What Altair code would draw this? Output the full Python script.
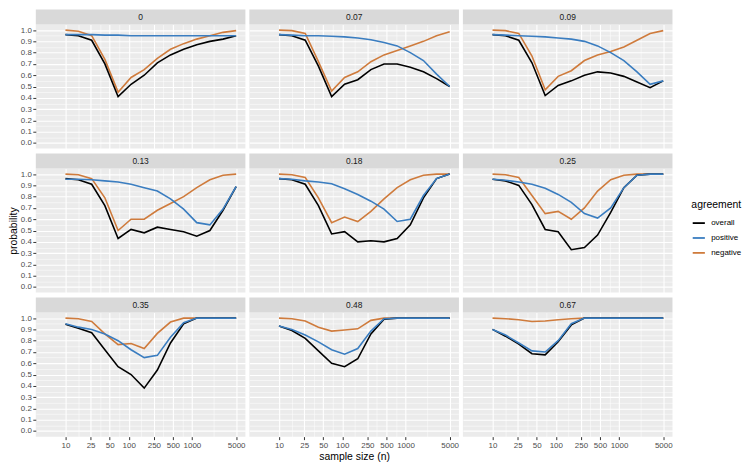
import altair as alt
import pandas as pd

FONT = "Liberation Sans"

# ---------------- data ----------------
N = [10, 16, 26, 42, 68, 109, 176, 284, 458, 739, 1192, 1923, 3101, 5000]
PANELS = ["0", "0.07", "0.09", "0.13", "0.18", "0.25", "0.35", "0.48", "0.67"]
SERIES = ["overall", "positive", "negative"]
COLORS = ["#000000", "#3A7DC0", "#CF7B3C"]

overall = {
    "0":    [0.96, 0.95, 0.91, 0.70, 0.41, 0.52, 0.60, 0.71, 0.78, 0.83, 0.87, 0.90, 0.92, 0.95],
    "0.07": [0.96, 0.95, 0.91, 0.68, 0.41, 0.52, 0.56, 0.65, 0.70, 0.70, 0.67, 0.63, 0.57, 0.50],
    "0.09": [0.96, 0.95, 0.91, 0.71, 0.42, 0.51, 0.55, 0.60, 0.63, 0.62, 0.59, 0.54, 0.49, 0.55],
    "0.13": [0.96, 0.95, 0.91, 0.72, 0.43, 0.51, 0.48, 0.53, 0.51, 0.49, 0.45, 0.50, 0.68, 0.89],
    "0.18": [0.96, 0.95, 0.91, 0.72, 0.47, 0.49, 0.40, 0.41, 0.40, 0.43, 0.55, 0.79, 0.96, 1.00],
    "0.25": [0.955, 0.94, 0.90, 0.73, 0.51, 0.49, 0.33, 0.35, 0.46, 0.66, 0.88, 0.99, 1.00, 1.00],
    "0.35": [0.945, 0.91, 0.87, 0.72, 0.57, 0.50, 0.38, 0.54, 0.78, 0.95, 1.00, 1.00, 1.00, 1.00],
    "0.48": [0.93, 0.89, 0.82, 0.71, 0.60, 0.57, 0.64, 0.86, 0.99, 1.00, 1.00, 1.00, 1.00, 1.00],
    "0.67": [0.90, 0.84, 0.77, 0.685, 0.675, 0.79, 0.94, 1.00, 1.00, 1.00, 1.00, 1.00, 1.00, 1.00],
}
positive = {
    "0":    [0.96, 0.96, 0.96, 0.955, 0.955, 0.95, 0.95, 0.95, 0.95, 0.95, 0.95, 0.95, 0.95, 0.95],
    "0.07": [0.96, 0.955, 0.95, 0.95, 0.945, 0.94, 0.93, 0.915, 0.89, 0.86, 0.80, 0.73, 0.61, 0.50],
    "0.09": [0.96, 0.955, 0.95, 0.945, 0.94, 0.93, 0.92, 0.90, 0.86, 0.80, 0.73, 0.63, 0.52, 0.55],
    "0.13": [0.955, 0.955, 0.95, 0.94, 0.93, 0.91, 0.88, 0.85, 0.78, 0.69, 0.57, 0.55, 0.69, 0.89],
    "0.18": [0.96, 0.955, 0.94, 0.93, 0.915, 0.87, 0.82, 0.76, 0.69, 0.58, 0.60, 0.81, 0.96, 1.00],
    "0.25": [0.955, 0.945, 0.93, 0.91, 0.875, 0.82, 0.75, 0.65, 0.61, 0.70, 0.88, 0.99, 1.00, 1.00],
    "0.35": [0.95, 0.92, 0.90, 0.86, 0.80, 0.72, 0.65, 0.67, 0.83, 0.96, 1.00, 1.00, 1.00, 1.00],
    "0.48": [0.93, 0.90, 0.85, 0.79, 0.72, 0.68, 0.73, 0.885, 0.995, 1.00, 1.00, 1.00, 1.00, 1.00],
    "0.67": [0.90, 0.85, 0.78, 0.71, 0.70, 0.80, 0.95, 1.00, 1.00, 1.00, 1.00, 1.00, 1.00, 1.00],
}
negative = {
    "0":    [1.00, 0.99, 0.95, 0.74, 0.45, 0.58, 0.65, 0.75, 0.83, 0.88, 0.92, 0.95, 0.98, 0.995],
    "0.07": [1.00, 0.995, 0.97, 0.72, 0.46, 0.58, 0.63, 0.72, 0.78, 0.82, 0.86, 0.90, 0.95, 0.985],
    "0.09": [1.00, 0.995, 0.97, 0.77, 0.47, 0.59, 0.64, 0.73, 0.78, 0.81, 0.85, 0.91, 0.97, 0.995],
    "0.13": [1.00, 0.995, 0.96, 0.79, 0.50, 0.60, 0.60, 0.68, 0.74, 0.80, 0.88, 0.95, 0.99, 1.00],
    "0.18": [1.00, 0.995, 0.97, 0.79, 0.57, 0.62, 0.58, 0.67, 0.78, 0.88, 0.95, 0.99, 1.00, 1.00],
    "0.25": [1.00, 0.995, 0.97, 0.81, 0.65, 0.67, 0.60, 0.70, 0.85, 0.95, 0.99, 1.00, 1.00, 1.00],
    "0.35": [1.00, 0.995, 0.97, 0.86, 0.765, 0.775, 0.73, 0.865, 0.965, 1.00, 1.00, 1.00, 1.00, 1.00],
    "0.48": [1.00, 0.995, 0.975, 0.92, 0.885, 0.895, 0.905, 0.98, 1.00, 1.00, 1.00, 1.00, 1.00, 1.00],
    "0.67": [1.00, 0.995, 0.985, 0.97, 0.975, 0.985, 0.995, 1.00, 1.00, 1.00, 1.00, 1.00, 1.00, 1.00],
}

X_MAJOR = [10, 25, 50, 100, 250, 500, 1000, 5000]
X_MINOR = [15.81, 35.36, 70.71, 158.1, 353.6, 707.1, 2236]
Y_MAJOR = [round(i * 0.1, 2) for i in range(11)]
Y_MINOR = [round(0.05 + i * 0.1, 2) for i in range(10)]

rows = []
for pnl in PANELS:
    for name, src in (("overall", overall), ("positive", positive), ("negative", negative)):
        for n, p in zip(N, src[pnl]):
            rows.append({"panel": pnl, "n": n, "agreement": name, "p": p})
df = pd.DataFrame(rows)

# ---------------- styling ----------------
W, H, STRIP = 211, 125, 15
X_TEST = "indexof([10,25,50,100,250,500,1000,5000], datum.value) >= 0"
Y_TEST = "abs(datum.value*10 - round(datum.value*10)) < 0.001"


def x_axis(show, title_visible):
    kw = dict(
        values=X_MAJOR + X_MINOR,
        domain=False,
        grid=True,
        gridColor="white",
        gridWidth={"condition": {"test": X_TEST, "value": 1.1}, "value": 0.5},
    )
    if show:
        kw.update(
            labels=True, ticks=True,
            labelExpr=f"{X_TEST} ? format(datum.value, 'd') : ''",
            labelFontSize=8, labelColor="#4D4D4D", labelPadding=1.5,
            tickSize=3, tickColor={"condition": {"test": X_TEST, "value": "#333333"}, "value": "transparent"},
            title="sample size (n)", titleFontSize=10.5, titleFontWeight="normal",
            titleColor="#000000", titlePadding=3,
            titleOpacity=1 if title_visible else 0,
        )
    else:
        kw.update(labels=False, ticks=False, title=None)
    return alt.Axis(**kw)


def y_axis(show, title_visible):
    kw = dict(
        values=Y_MAJOR + Y_MINOR,
        domain=False,
        grid=True,
        gridColor="white",
        gridWidth={"condition": {"test": Y_TEST, "value": 1.1}, "value": 0.5},
    )
    if show:
        kw.update(
            labels=True, ticks=True,
            labelExpr=f"{Y_TEST} ? format(datum.value, '.1f') : ''",
            labelFontSize=8, labelColor="#4D4D4D", labelPadding=1.5,
            tickSize=3, tickColor={"condition": {"test": Y_TEST, "value": "#333333"}, "value": "transparent"},
            title="probability", titleFontSize=10.5, titleFontWeight="normal",
            titleColor="#000000", titlePadding=2,
            titleOpacity=1 if title_visible else 0,
        )
    else:
        kw.update(labels=False, ticks=False, title=None)
    return alt.Axis(**kw)


legend = alt.Legend(
    title="agreement", orient="none", legendX=660, legendY=177,
    symbolType="stroke", symbolStrokeWidth=1.8, symbolSize=150,
    titleFontSize=10.5, titleFontWeight="normal", titleColor="#000000", titlePadding=5,
    labelFontSize=8, labelColor="#000000", rowPadding=3, labelOffset=5,
)


def panel(i, label):
    r, c = divmod(i, 3)
    d = df[df.panel == label]
    strip_df = pd.DataFrame({"label": [label]})
    strip_bg = alt.Chart(strip_df).mark_rect(color="#D9D9D9").encode(
        x=alt.value(0), x2=alt.value(W), y=alt.value(-STRIP), y2=alt.value(0)
    )
    strip_txt = alt.Chart(strip_df).mark_text(
        fontSize=8.5, color="#1A1A1A", baseline="middle", align="center"
    ).encode(x=alt.value(W / 2), y=alt.value(-STRIP / 2), text="label:N")

    base = alt.Chart(d).encode(
        x=alt.X("n:Q", scale=alt.Scale(type="log", domain=[3.4, 7000], nice=False),
                axis=x_axis(r == 2, c == 1)),
        y=alt.Y("p:Q", scale=alt.Scale(domain=[-0.05, 1.05], nice=False, zero=False),
                axis=y_axis(c == 0, r == 1)),
        color=alt.Color("agreement:N", scale=alt.Scale(domain=SERIES, range=COLORS), legend=legend),
    )
    lines = [
        base.transform_filter(alt.datum.agreement == s).mark_line(strokeWidth=1.6)
        for s in ["negative", "overall", "positive"]
    ]
    return alt.layer(strip_bg, strip_txt, *lines).properties(width=W, height=H)


panels = [panel(i, lab) for i, lab in enumerate(PANELS)]
grid_rows = [alt.hconcat(*panels[r * 3:(r + 1) * 3], spacing=4) for r in range(3)]
chart = (
    alt.vconcat(*grid_rows, spacing=5)
    .properties(padding={"left": 0, "top": 0, "right": 0, "bottom": 0})
    .configure(font=FONT)
    .configure_view(fill="#EBEBEB", strokeWidth=0)
)

chart.save("out.html", embed_options={"renderer": "svg", "actions": False})
